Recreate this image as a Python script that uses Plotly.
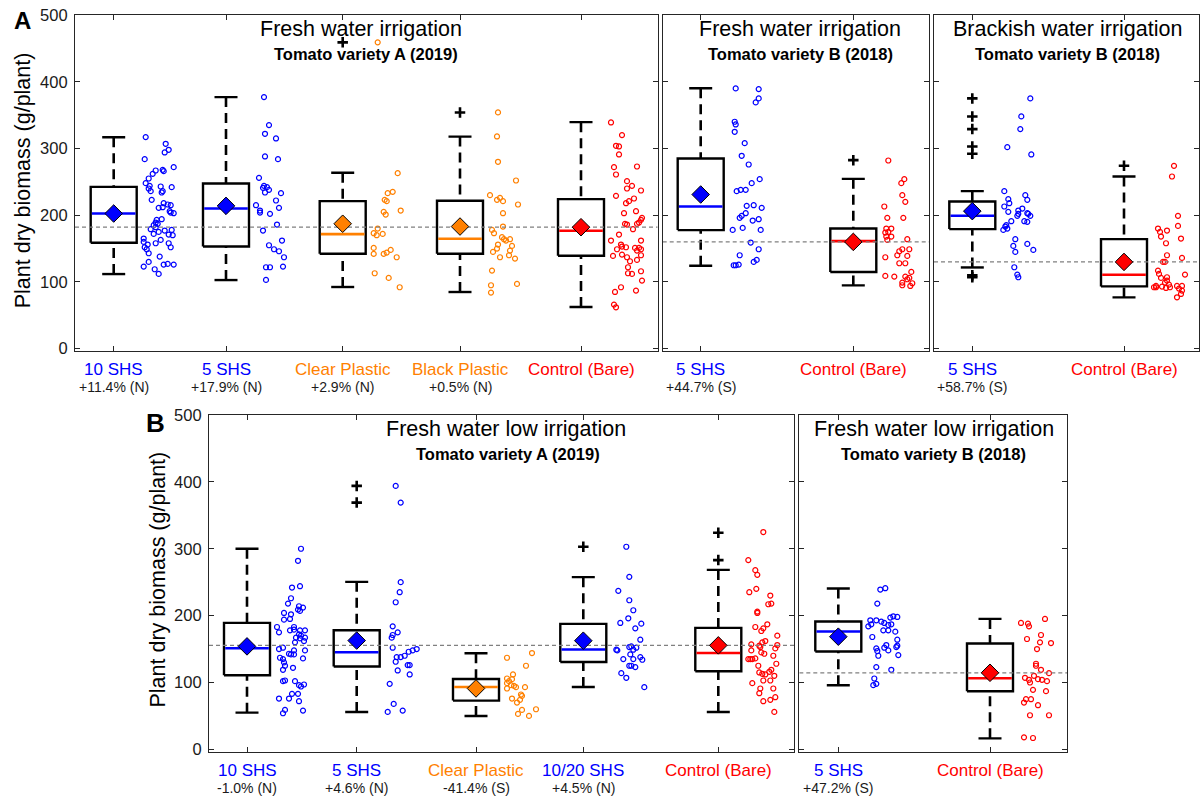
import plotly.graph_objects as go

W, H = 1200, 798
FONT = "Liberation Sans, Arial, Helvetica, sans-serif"
BLUE, ORANGE, RED = "#0000FF", "#FF8000", "#FF0000"
INK = "#262626"

# =====================================================================
# Panel A, left: fresh water irrigation, tomato variety A (2019)
# =====================================================================
a1_names = ["10 SHS", "5 SHS", "Clear Plastic", "Black Plastic", "Control (Bare)"]
a1_change = ["+11.4% (N)", "+17.9% (N)", "+2.9% (N)", "+0.5% (N)", ""]
a1_q1 = [158.7, 153.2, 142.2, 142.2, 139.2]
a1_med = [202.6, 210.0, 171.7, 164.7, 176.6]
a1_q3 = [242.5, 247.5, 221.1, 221.6, 224.1]
a1_lo = [111.8, 102.8, 92.4, 84.9, 62.4]
a1_hi = [316.9, 377.0, 263.5, 317.8, 339.4]
a1_mean = [202.5, 214.0, 187.2, 183.0, 182.0]
a1_out = [[], [], [459], [354], []]

a1_10shs = [317, 284, 307, 298, 294, 272, 267, 268, 266, 262, 255, 248, 244, 240, 236,
            243, 236, 234, 242, 223, 211, 218, 216, 215, 212, 206, 204, 203, 193, 189,
            194, 185, 182, 187, 179, 172, 175, 177, 178, 171, 165, 160, 156, 152, 149,
            143, 158, 163, 158, 152, 138, 130, 123, 119, 112, 126, 127, 126, 170]
a1_10shs_jit = [32, 31, 52, 55, 51, 60, 42, 49, 50, 39, 35, 32, 36, 35, 37,
                47, 49, 48, 58, 38, 45, 50, 54, 57, 49, 56, 57, 60, 43, 42,
                48, 40, 42, 44, 37, 40, 45, 51, 58, 55, 30, 30, 34, 31, 33,
                35, 42, 47, 55, 57, 46, 35, 30, 41, 45, 50, 54, 60, 59]
a1_5shs = [377, 335, 322, 315, 288, 284, 256, 244, 242, 241, 238, 234, 233, 215, 222,
           211, 207, 204, 202, 186, 177, 162, 155, 149, 146, 137, 122, 122, 123, 103]
a1_5shs_jit = [38, 43, 39, 50, 39, 52, 33, 38, 41, 37, 43, 39, 55, 30, 50,
               53, 34, 34, 44, 51, 37, 56, 43, 48, 53, 58, 40, 44, 57, 40]
a1_clear = [459, 263, 233, 235, 223, 221, 205, 201, 180, 173, 170, 172, 151, 142, 142,
            144, 148, 137, 113, 106, 92, 207]
a1_clear_jit = [35, 55, 45, 50, 42, 44, 41, 43, 35, 31, 34, 40, 31, 31, 41,
                44, 48, 54, 32, 46, 57, 58]
a1_black = [354, 318, 280, 252, 230, 226, 223, 221, 216, 203, 178, 173, 183, 167, 164,
            162, 164, 154, 156, 150, 147, 145, 137, 140, 135, 117, 95, 84, 97]
a1_black_jit = [38, 37, 38, 56, 30, 40, 37, 43, 58, 43, 32, 34, 43, 42, 44,
                46, 50, 52, 38, 37, 50, 33, 40, 49, 55, 32, 31, 31, 57]
a1_ctrl = [339, 320, 304, 303, 291, 272, 273, 261, 251, 244, 240, 237, 229, 225, 221,
           218, 203, 206, 196, 193, 189, 187, 187, 186, 179, 162, 171, 162, 153, 152,
           149, 156, 151, 151, 147, 149, 139, 137, 140, 133, 131, 122, 116, 113, 112,
           87, 85, 92, 66, 62, 102, 141]
a1_ctrl_jit = [30, 41, 35, 38, 38, 33, 56, 35, 46, 51, 46, 60, 35, 53, 48,
               45, 43, 55, 61, 60, 58, 56, 44, 46, 52, 30, 38, 60, 41, 45,
               36, 40, 54, 58, 56, 60, 32, 46, 60, 56, 49, 47, 60, 47, 51,
               55, 34, 40, 33, 35, 61, 41]

# =====================================================================
# Panel A, middle: fresh water irrigation, tomato variety B (2018)
# =====================================================================
a2_names = ["5 SHS", "Control (Bare)"]
a2_change = ["+44.7% (S)", ""]
a2_q1 = [177.7, 114.8]
a2_med = [213.0, 161.1]
a2_q3 = [284.9, 180.1]
a2_lo = [124.3, 94.8]
a2_hi = [390.3, 254.5]
a2_mean = [231.0, 160.0]
a2_out = [[], [282.5]]

a2_5shs = [390, 389, 375, 369, 340, 336, 325, 308, 289, 276, 254, 248, 236, 238, 238,
           214, 215, 211, 203, 199, 196, 194, 192, 181, 178, 178, 159, 149, 140, 125,
           125, 126, 130, 133]
a2_5shs_jit = [35, 58, 58, 55, 34, 35, 34, 44, 41, 48, 59, 51, 36, 40, 45,
               46, 53, 61, 45, 41, 39, 58, 52, 42, 60, 32, 50, 58, 39, 33,
               35, 38, 53, 56]
a2_ctrl = [282, 254, 248, 230, 220, 213, 196, 196, 180, 180, 174, 175, 168, 163, 168,
           164, 146, 149, 149, 140, 137, 139, 128, 128, 115, 109, 108, 108, 106, 99,
           95, 94, 98, 104]
a2_ctrl_jit = [35, 51, 48, 49, 52, 31, 50, 34, 33, 38, 32, 35, 33, 34, 38,
               54, 46, 49, 56, 44, 32, 54, 46, 52, 58, 32, 41, 52, 56, 49,
               49, 57, 59, 54]

# =====================================================================
# Panel A, right: brackish water irrigation, tomato variety B (2018)
# =====================================================================
a3_names = ["5 SHS", "Control (Bare)"]
a3_change = ["+58.7% (S)", ""]
a3_q1 = [179.2, 93.3]
a3_med = [199.1, 110.8]
a3_q3 = [220.5, 164.2]
a3_lo = [121.7, 76.8]
a3_hi = [236.0, 257.9]
a3_mean = [206.1, 130.0]
a3_out = [[375, 348, 329, 303, 292, 110, 107], [274]]

a3_5shs = [375, 348, 329, 302, 291, 236, 230, 224, 223, 218, 213, 205, 210, 207, 202,
           199, 203, 202, 199, 191, 191, 190, 185, 183, 178, 180, 164, 154, 157, 145,
           148, 122, 111, 107]
a3_5shs_jit = [58, 49, 48, 35, 59, 32, 53, 36, 55, 37, 32, 36, 50, 46, 46,
               45, 55, 56, 58, 39, 52, 55, 34, 33, 31, 35, 43, 41, 55, 43,
               61, 42, 45, 46]
a3_ctrl = [274, 258, 199, 180, 177, 175, 168, 184, 165, 158, 140, 130, 130, 136, 117,
           112, 106, 107, 102, 99, 96, 93, 92, 94, 91, 92, 94, 94, 90, 87,
           82, 77, 111, 92]
a3_ctrl_jit = [50, 48, 54, 34, 43, 36, 37, 54, 57, 42, 43, 39, 41, 58, 34,
               35, 37, 43, 43, 41, 45, 38, 32, 32, 42, 46, 53, 58, 55, 58,
               57, 53, 61, 30]

# =====================================================================
# Panel B, left: fresh water low irrigation, tomato variety A (2019)
# =====================================================================
b1_names = ["10 SHS", "5 SHS", "Clear Plastic", "10/20 SHS", "Control (Bare)"]
b1_change = ["-1.0% (N)", "+4.6% (N)", "-41.4% (S)", "+4.5% (N)", ""]
b1_q1 = [110.8, 123.8, 72.9, 130.7, 116.8]
b1_med = [151.2, 145.2, 93.3, 149.3, 144.2]
b1_q3 = [189.1, 178.1, 105.2, 187.6, 181.6]
b1_lo = [54.9, 55.9, 49.9, 93.3, 55.9]
b1_hi = [299.9, 250.5, 143.7, 257.5, 268.4]
b1_mean = [154.0, 162.7, 91.1, 162.5, 155.5]
b1_out = [[], [394, 369], [], [303], [324, 283]]

b1_10shs = [300, 282, 244, 242, 226, 218, 214, 212, 209, 207, 204, 202, 194, 195, 183,
            183, 175, 178, 179, 178, 178, 172, 170, 167, 167, 166, 160, 162, 152, 150,
            148, 148, 143, 142, 142, 137, 135, 136, 130, 125, 122, 119, 102, 103, 102,
            96, 97, 94, 83, 83, 76, 76, 72, 59, 54, 58]
b1_10shs_jit = [54, 51, 53, 45, 44, 41, 52, 56, 51, 53, 37, 44, 37, 43, 30,
                47, 32, 43, 47, 53, 58, 52, 54, 49, 58, 53, 48, 57, 36, 32,
                47, 58, 42, 44, 47, 33, 36, 56, 37, 38, 46, 36, 36, 38, 48,
                52, 57, 54, 45, 51, 32, 42, 52, 38, 36, 56]
b1_5shs = [394, 369, 250, 235, 220, 184, 175, 171, 167, 152, 150, 148, 146, 140, 138,
           138, 131, 126, 126, 118, 112, 98, 68, 58, 56]
b1_5shs_jit = [39, 44, 44, 43, 39, 36, 41, 36, 35, 36, 60, 56, 52, 48, 40,
               44, 39, 51, 53, 41, 53, 33, 37, 46, 31]
b1_clear = [144, 137, 125, 112, 106, 102, 105, 99, 95, 93, 93, 91, 82, 80, 76,
            74, 70, 59, 53, 50, 60, 96]
b1_clear_jit = [56, 31, 50, 37, 31, 33, 36, 31, 38, 40, 49, 31, 45, 46, 36,
                44, 41, 46, 42, 53, 60, 35]
b1_1020shs = [303, 258, 237, 223, 208, 196, 189, 188, 181, 164, 149, 148, 153, 154, 152,
              149, 142, 135, 135, 138, 134, 125, 125, 123, 114, 107, 93]
b1_1020shs_jit = [43, 46, 35, 46, 50, 45, 37, 58, 52, 57, 33, 34, 46, 48, 53,
                  50, 47, 40, 50, 57, 59, 46, 48, 52, 38, 43, 61]
b1_ctrl = [325, 283, 268, 261, 235, 240, 230, 217, 218, 206, 204, 187, 183, 181, 177,
           162, 157, 160, 153, 155, 170, 156, 151, 148, 145, 143, 135, 135, 135, 140,
           128, 125, 119, 116, 115, 113, 112, 110, 103, 99, 103, 91, 84, 91, 78,
           72, 74, 56, 136]
b1_ctrl_jit = [45, 30, 37, 39, 31, 38, 52, 50, 53, 39, 39, 49, 37, 45, 43,
               47, 33, 44, 42, 41, 59, 59, 57, 33, 43, 46, 30, 32, 34, 55,
               58, 40, 53, 51, 41, 44, 47, 56, 45, 34, 52, 42, 41, 55, 57,
               45, 52, 56, 37]

# =====================================================================
# Panel B, right: fresh water low irrigation, tomato variety B (2018)
# =====================================================================
b2_names = ["5 SHS", "Control (Bare)"]
b2_change = ["+47.2% (S)", ""]
b2_q1 = [146.3, 86.8]
b2_med = [176.2, 106.3]
b2_q3 = [191.2, 158.2]
b2_lo = [95.8, 16.5]
b2_hi = [240.6, 195.1]
b2_mean = [168.5, 114.5]
b2_out = [[], []]

b2_5shs = [239, 241, 218, 193, 193, 191, 189, 186, 187, 197, 199, 198, 184, 187, 178,
           178, 176, 168, 164, 156, 152, 151, 155, 153, 148, 147, 140, 141, 123, 119,
           106, 96, 98]
b2_5shs_jit = [42, 47, 39, 32, 38, 43, 46, 50, 53, 52, 55, 59, 30, 33, 45,
               50, 57, 34, 59, 48, 46, 38, 59, 58, 50, 39, 40, 60, 38, 53,
               36, 35, 38]
b2_ctrl = [195, 189, 188, 184, 171, 165, 160, 159, 150, 128, 125, 119, 114, 110, 105,
           104, 102, 107, 104, 100, 89, 87, 75, 70, 75, 66, 51, 51, 18, 17]
b2_ctrl_jit = [55, 31, 38, 39, 51, 37, 50, 61, 47, 46, 46, 51, 59, 44, 48,
               52, 57, 35, 39, 40, 43, 56, 36, 34, 41, 48, 40, 59, 34, 43]

# =====================================================================
# Layout of the five panels (pixel frame of each axes box)
# =====================================================================
TOP_ROW = (15, 351)
BOT_ROW = (415, 751.7)
YRANGE = [-3.5, 500]
HW = 23      # half box width
CAP = 11.5   # half whisker-cap width


def py(p):
    return 1 - p / H


panels = [
    dict(px=(75, 657.7), py=TOP_ROW, centers=[113.7, 226, 342.7, 460, 581],
         names=a1_names, change=a1_change, colors=[BLUE, BLUE, ORANGE, ORANGE, RED],
         q1=a1_q1, med=a1_med, q3=a1_q3, lo=a1_lo, hi=a1_hi, mean=a1_mean, out=a1_out,
         pts=[a1_10shs, a1_5shs, a1_clear, a1_black, a1_ctrl],
         jit=[a1_10shs_jit, a1_5shs_jit, a1_clear_jit, a1_black_jit, a1_ctrl_jit],
         title="Fresh water irrigation", sub="Tomato variety A (2019)",
         tx=360.5, sx=366, ty=29, sy=54, yticks=True),
    dict(px=(662.7, 929.3), py=TOP_ROW, centers=[700.7, 853.3],
         names=a2_names, change=a2_change, colors=[BLUE, RED],
         q1=a2_q1, med=a2_med, q3=a2_q3, lo=a2_lo, hi=a2_hi, mean=a2_mean, out=a2_out,
         pts=[a2_5shs, a2_ctrl], jit=[a2_5shs_jit, a2_ctrl_jit],
         title="Fresh water irrigation", sub="Tomato variety B (2018)",
         tx=800.3, sx=800.8, ty=29, sy=54, yticks=False),
    dict(px=(934, 1198.8), py=TOP_ROW, centers=[972.3, 1124],
         names=a3_names, change=a3_change, colors=[BLUE, RED],
         q1=a3_q1, med=a3_med, q3=a3_q3, lo=a3_lo, hi=a3_hi, mean=a3_mean, out=a3_out,
         pts=[a3_5shs, a3_ctrl], jit=[a3_5shs_jit, a3_ctrl_jit],
         title="Brackish water irrigation", sub="Tomato variety B (2018)",
         tx=1067, sx=1067.5, ty=29, sy=54, yticks=False),
    dict(px=(209, 794.3), py=BOT_ROW, centers=[247, 356.7, 476, 583.3, 718.3],
         names=b1_names, change=b1_change, colors=[BLUE, BLUE, ORANGE, BLUE, RED],
         q1=b1_q1, med=b1_med, q3=b1_q3, lo=b1_lo, hi=b1_hi, mean=b1_mean, out=b1_out,
         pts=[b1_10shs, b1_5shs, b1_clear, b1_1020shs, b1_ctrl],
         jit=[b1_10shs_jit, b1_5shs_jit, b1_clear_jit, b1_1020shs_jit, b1_ctrl_jit],
         title="Fresh water low irrigation", sub="Tomato variety A (2019)",
         tx=505.5, sx=507.8, ty=429.3, sy=454, yticks=True),
    dict(px=(799.3, 1067.3), py=BOT_ROW, centers=[838.3, 990],
         names=b2_names, change=b2_change, colors=[BLUE, RED],
         q1=b2_q1, med=b2_med, q3=b2_q3, lo=b2_lo, hi=b2_hi, mean=b2_mean, out=b2_out,
         pts=[b2_5shs, b2_ctrl], jit=[b2_5shs_jit, b2_ctrl_jit],
         title="Fresh water low irrigation", sub="Tomato variety B (2018)",
         tx=933.8, sx=933.7, ty=429.3, sy=454, yticks=False),
]

fig = go.Figure()
annotations = []
layout_axes = {}

for n, sp in enumerate(panels, start=1):
    suffix = "" if n == 1 else str(n)
    xa, ya = "x" + suffix, "y" + suffix
    x0, x1 = sp["px"]
    top, bot = sp["py"]
    common = dict(xaxis=xa, yaxis=ya, hoverinfo="skip", showlegend=False)

    for i, c in enumerate(sp["centers"]):
        col = sp["colors"][i]
        q1, md, q3 = sp["q1"][i], sp["med"][i], sp["q3"][i]
        lo, hi = sp["lo"][i], sp["hi"][i]
        # dashed whiskers
        fig.add_trace(go.Scatter(x=[c, c, None, c, c], y=[hi, q3, None, lo, q1],
                                 mode="lines", line=dict(color="black", width=2.6, dash="10px,6px"),
                                 **common))
        # whisker caps
        fig.add_trace(go.Scatter(x=[c - CAP, c + CAP, None, c - CAP, c + CAP],
                                 y=[hi, hi, None, lo, lo], mode="lines",
                                 line=dict(color="black", width=2.4), **common))
        # interquartile box
        fig.add_trace(go.Scatter(x=[c - HW, c + HW, c + HW, c - HW, c - HW],
                                 y=[q1, q1, q3, q3, q1], mode="lines",
                                 line=dict(color="black", width=2.4), **common))
        # median
        fig.add_trace(go.Scatter(x=[c - HW + 1.2, c + HW - 1.2], y=[md, md], mode="lines",
                                 line=dict(color=col, width=2.6), **common))
        # outliers
        if sp["out"][i]:
            fig.add_trace(go.Scatter(x=[c] * len(sp["out"][i]), y=sp["out"][i], mode="markers",
                                     marker=dict(symbol="cross-thin", size=7.5, color="black",
                                                 line=dict(color="black", width=2.6)),
                                     **common))
        # individual plants
        fig.add_trace(go.Scatter(x=[c + j for j in sp["jit"][i]], y=sp["pts"][i], mode="markers",
                                 marker=dict(symbol="circle-open", size=5, color=col,
                                             line=dict(color=col, width=1.2)),
                                 **common))

    # control-mean reference line
    cm = sp["mean"][-1]
    fig.add_trace(go.Scatter(x=[x0, x1], y=[cm, cm], mode="lines",
                             line=dict(color="#808080", width=1.2, dash="4px,3px"), **common))
    # treatment means
    fig.add_trace(go.Scatter(x=sp["centers"], y=sp["mean"], mode="markers",
                             marker=dict(symbol="diamond", size=13.5, color=sp["colors"],
                                         line=dict(color="black", width=1)),
                             **common))

    layout_axes["xaxis" + suffix] = dict(
        domain=[x0 / W, x1 / W], range=[x0, x1], anchor=ya,
        showline=True, linecolor=INK, linewidth=1.2, mirror="ticks",
        ticks="inside", ticklen=5, tickcolor=INK, tickwidth=1,
        tickvals=sp["centers"], showticklabels=False,
        showgrid=False, zeroline=False, automargin=False, fixedrange=True)
    layout_axes["yaxis" + suffix] = dict(
        domain=[py(bot), py(top)], range=YRANGE, anchor=xa,
        showline=True, linecolor=INK, linewidth=1.2, mirror="ticks",
        ticks="inside", ticklen=5, tickcolor=INK, tickwidth=1,
        tickvals=[0, 100, 200, 300, 400, 500], showticklabels=sp["yticks"],
        tickfont=dict(family=FONT, size=16.5, color="#1a1a1a"), ticklabelstandoff=3,
        showgrid=False, zeroline=False, automargin=False, fixedrange=True)

    # category labels and change relative to control
    name_y = bot + 18.3
    change_y = bot + 36.3
    for i, c in enumerate(sp["centers"]):
        annotations.append(dict(x=c, y=py(name_y), xref=xa, yref="paper", text=sp["names"][i],
                                showarrow=False, xanchor="center", yanchor="middle",
                                font=dict(family=FONT, size=17, color=sp["colors"][i])))
        if sp["change"][i]:
            annotations.append(dict(x=c, y=py(change_y), xref=xa, yref="paper",
                                    text=sp["change"][i], showarrow=False,
                                    xanchor="center", yanchor="middle",
                                    font=dict(family=FONT, size=14, color="#1a1a1a")))

    # panel headings
    annotations.append(dict(x=sp["tx"] / W, y=py(sp["ty"]), xref="paper", yref="paper",
                            text=sp["title"], showarrow=False, xanchor="center", yanchor="middle",
                            font=dict(family=FONT, size=21.5, color="black")))
    annotations.append(dict(x=sp["sx"] / W, y=py(sp["sy"]), xref="paper", yref="paper",
                            text="<b>" + sp["sub"] + "</b>", showarrow=False,
                            xanchor="center", yanchor="middle",
                            font=dict(family=FONT, size=16.5, color="black")))

# y-axis titles and panel letters
for cx, cy in [(23.3, 180), (157.5, 580)]:
    annotations.append(dict(x=cx / W, y=py(cy), xref="paper", yref="paper",
                            text="Plant dry biomass (g/plant)", textangle=-90, showarrow=False,
                            xanchor="center", yanchor="middle",
                            font=dict(family=FONT, size=21.5, color="black")))
for letter, cx, cy, fs in [("A", 22.5, 20.5, 24), ("B", 155, 423, 26)]:
    annotations.append(dict(x=cx / W, y=py(cy), xref="paper", yref="paper",
                            text="<b>" + letter + "</b>", showarrow=False,
                            xanchor="center", yanchor="middle",
                            font=dict(family=FONT, size=fs, color="black")))

fig.update_layout(
    width=W, height=H, margin=dict(l=0, r=0, t=0, b=0),
    paper_bgcolor="white", plot_bgcolor="white",
    font=dict(family=FONT), showlegend=False,
    annotations=annotations, **layout_axes)

fig.write_html("out.html", config={"displayModeBar": False})
